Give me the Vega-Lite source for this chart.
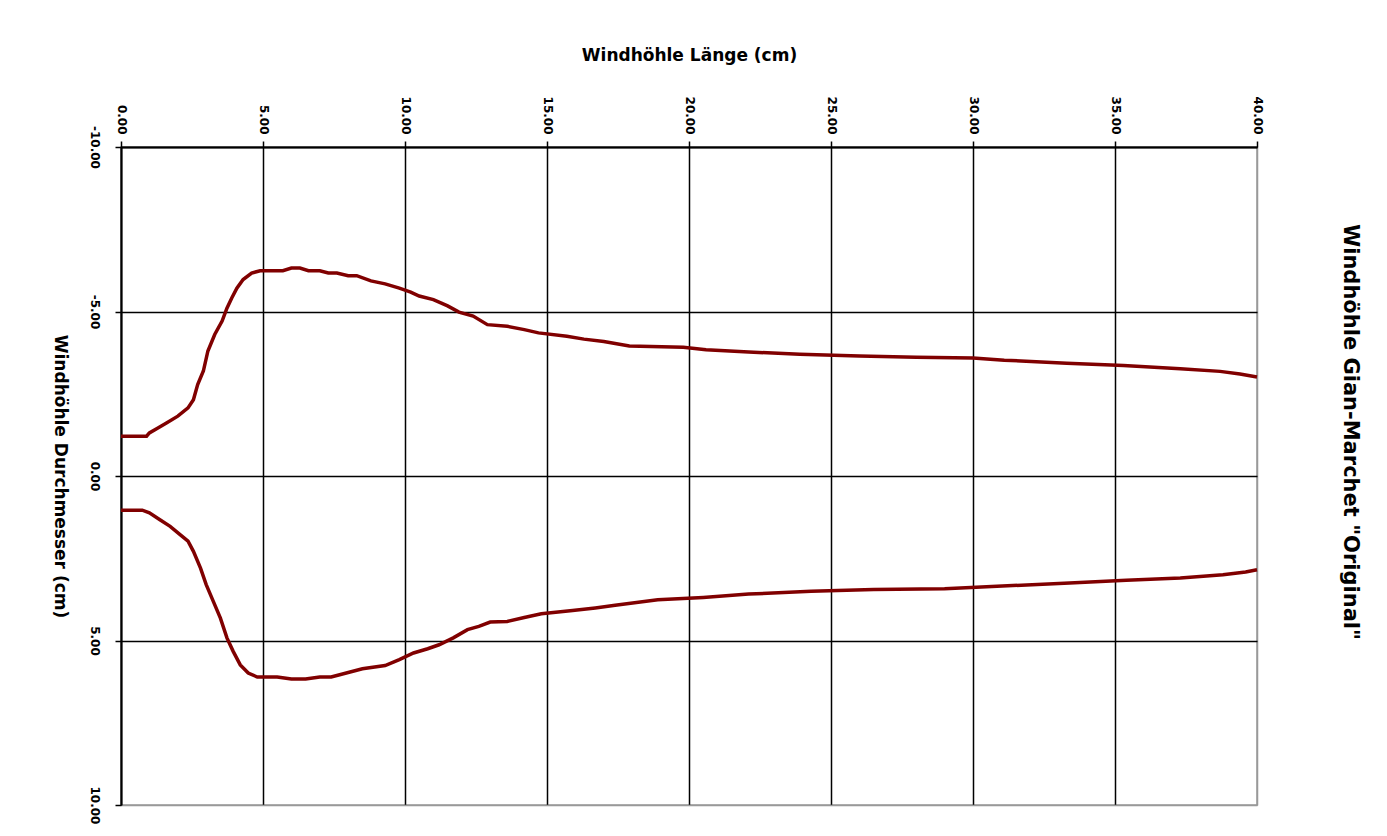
{
  "$schema": "https://vega.github.io/schema/vega-lite/v6.json",
  "autosize": "none",
  "width": 1136,
  "height": 658,
  "padding": {"left": 121, "top": 147, "right": 130, "bottom": 31},
  "background": "white",
  "title": {
    "text": "Windhöhle Gian-Marchet \"Original\"",
    "orient": "right",
    "angle": 90,
    "anchor": "middle",
    "offset": 76,
    "dx": -44,
    "font": "DejaVu Sans",
    "fontSize": 21,
    "fontWeight": "bold",
    "color": "black"
  },
  "config": {
    "view": {"stroke": "#999999", "strokeWidth": 1.5},
    "axis": {
      "labelFont": "DejaVu Sans",
      "labelFontSize": 12,
      "labelFontWeight": "bold",
      "labelColor": "black",
      "titleFont": "DejaVu Sans",
      "titleFontSize": 17,
      "titleFontWeight": "bold",
      "titleColor": "black",
      "domainColor": "black",
      "domainWidth": 2,
      "tickColor": "black",
      "tickWidth": 1.5,
      "tickSize": 6,
      "gridWidth": 1.5
    }
  },
  "data": {
    "values": [
      {"s": "oben", "x": 0, "y": -1.21},
      {"s": "oben", "x": 0.9, "y": -1.21},
      {"s": "oben", "x": 1.0, "y": -1.31},
      {"s": "oben", "x": 1.3, "y": -1.46},
      {"s": "oben", "x": 1.6, "y": -1.61},
      {"s": "oben", "x": 2.0, "y": -1.82},
      {"s": "oben", "x": 2.36, "y": -2.07},
      {"s": "oben", "x": 2.55, "y": -2.32},
      {"s": "oben", "x": 2.7, "y": -2.78},
      {"s": "oben", "x": 2.9, "y": -3.19},
      {"s": "oben", "x": 3.06, "y": -3.8},
      {"s": "oben", "x": 3.3, "y": -4.3},
      {"s": "oben", "x": 3.56, "y": -4.71},
      {"s": "oben", "x": 3.73, "y": -5.1},
      {"s": "oben", "x": 3.9, "y": -5.41},
      {"s": "oben", "x": 4.08, "y": -5.71},
      {"s": "oben", "x": 4.3, "y": -5.97},
      {"s": "oben", "x": 4.6, "y": -6.17},
      {"s": "oben", "x": 4.9, "y": -6.24},
      {"s": "oben", "x": 5.7, "y": -6.24},
      {"s": "oben", "x": 6.0, "y": -6.32},
      {"s": "oben", "x": 6.3, "y": -6.32},
      {"s": "oben", "x": 6.6, "y": -6.24},
      {"s": "oben", "x": 7.0, "y": -6.24},
      {"s": "oben", "x": 7.3, "y": -6.17},
      {"s": "oben", "x": 7.6, "y": -6.17},
      {"s": "oben", "x": 8.0, "y": -6.09},
      {"s": "oben", "x": 8.3, "y": -6.09},
      {"s": "oben", "x": 8.8, "y": -5.93},
      {"s": "oben", "x": 9.3, "y": -5.84},
      {"s": "oben", "x": 9.8, "y": -5.71},
      {"s": "oben", "x": 10.2, "y": -5.59},
      {"s": "oben", "x": 10.5, "y": -5.47},
      {"s": "oben", "x": 11.0, "y": -5.36},
      {"s": "oben", "x": 11.5, "y": -5.17},
      {"s": "oben", "x": 11.9, "y": -4.98},
      {"s": "oben", "x": 12.4, "y": -4.86},
      {"s": "oben", "x": 12.9, "y": -4.6},
      {"s": "oben", "x": 13.6, "y": -4.55},
      {"s": "oben", "x": 14.2, "y": -4.45},
      {"s": "oben", "x": 14.7, "y": -4.35},
      {"s": "oben", "x": 15.7, "y": -4.25},
      {"s": "oben", "x": 16.3, "y": -4.16},
      {"s": "oben", "x": 17.0, "y": -4.09},
      {"s": "oben", "x": 17.9, "y": -3.95},
      {"s": "oben", "x": 19.8, "y": -3.91},
      {"s": "oben", "x": 20.6, "y": -3.84},
      {"s": "oben", "x": 22.1, "y": -3.77},
      {"s": "oben", "x": 23.9, "y": -3.7},
      {"s": "oben", "x": 26.0, "y": -3.65},
      {"s": "oben", "x": 28.0, "y": -3.61},
      {"s": "oben", "x": 30.0, "y": -3.59},
      {"s": "oben", "x": 31.1, "y": -3.52},
      {"s": "oben", "x": 33.3, "y": -3.43},
      {"s": "oben", "x": 35.3, "y": -3.36},
      {"s": "oben", "x": 37.3, "y": -3.26},
      {"s": "oben", "x": 38.7, "y": -3.18},
      {"s": "oben", "x": 39.4, "y": -3.1},
      {"s": "oben", "x": 40, "y": -3.01},
      {"s": "unten", "x": 0, "y": 1.04},
      {"s": "unten", "x": 0.75, "y": 1.04},
      {"s": "unten", "x": 1.0, "y": 1.12},
      {"s": "unten", "x": 1.37, "y": 1.33},
      {"s": "unten", "x": 1.73, "y": 1.53},
      {"s": "unten", "x": 2.08, "y": 1.78},
      {"s": "unten", "x": 2.36, "y": 1.98},
      {"s": "unten", "x": 2.55, "y": 2.29},
      {"s": "unten", "x": 2.8, "y": 2.8},
      {"s": "unten", "x": 3.0, "y": 3.3},
      {"s": "unten", "x": 3.25, "y": 3.81},
      {"s": "unten", "x": 3.5, "y": 4.32},
      {"s": "unten", "x": 3.73, "y": 4.92},
      {"s": "unten", "x": 3.95, "y": 5.33},
      {"s": "unten", "x": 4.2, "y": 5.74},
      {"s": "unten", "x": 4.48, "y": 5.99},
      {"s": "unten", "x": 4.8, "y": 6.11},
      {"s": "unten", "x": 5.5, "y": 6.11},
      {"s": "unten", "x": 6.0, "y": 6.17},
      {"s": "unten", "x": 6.5, "y": 6.17},
      {"s": "unten", "x": 7.0, "y": 6.11},
      {"s": "unten", "x": 7.4, "y": 6.11},
      {"s": "unten", "x": 7.8, "y": 6.02},
      {"s": "unten", "x": 8.5, "y": 5.86},
      {"s": "unten", "x": 9.3, "y": 5.76},
      {"s": "unten", "x": 9.8, "y": 5.58},
      {"s": "unten", "x": 10.3, "y": 5.38},
      {"s": "unten", "x": 10.8, "y": 5.25},
      {"s": "unten", "x": 11.2, "y": 5.13},
      {"s": "unten", "x": 11.7, "y": 4.92},
      {"s": "unten", "x": 12.2, "y": 4.67},
      {"s": "unten", "x": 12.6, "y": 4.57},
      {"s": "unten", "x": 13.0, "y": 4.44},
      {"s": "unten", "x": 13.6, "y": 4.42},
      {"s": "unten", "x": 14.2, "y": 4.3},
      {"s": "unten", "x": 14.8, "y": 4.19},
      {"s": "unten", "x": 15.9, "y": 4.09},
      {"s": "unten", "x": 16.7, "y": 4.01},
      {"s": "unten", "x": 17.4, "y": 3.93},
      {"s": "unten", "x": 18.9, "y": 3.76},
      {"s": "unten", "x": 20.5, "y": 3.69},
      {"s": "unten", "x": 22.1, "y": 3.59},
      {"s": "unten", "x": 24.3, "y": 3.5},
      {"s": "unten", "x": 26.5, "y": 3.45},
      {"s": "unten", "x": 29.0, "y": 3.43},
      {"s": "unten", "x": 31.4, "y": 3.33},
      {"s": "unten", "x": 33.4, "y": 3.25},
      {"s": "unten", "x": 35.4, "y": 3.17},
      {"s": "unten", "x": 37.3, "y": 3.1},
      {"s": "unten", "x": 38.8, "y": 3.0},
      {"s": "unten", "x": 39.6, "y": 2.92},
      {"s": "unten", "x": 40, "y": 2.85}
    ]
  },
  "mark": {"type": "line", "color": "#800000", "strokeWidth": 3.5, "interpolate": "linear"},
  "encoding": {
    "detail": {"field": "s", "type": "nominal"},
    "x": {
      "field": "x",
      "type": "quantitative",
      "scale": {"domain": [0, 40], "nice": false, "zero": false},
      "axis": {
        "orient": "top",
        "title": "Windhöhle Länge (cm)",
        "values": [0, 5, 10, 15, 20, 25, 30, 35, 40],
        "format": ".2f",
        "labelAngle": 90,
        "labelAlign": "right",
        "labelBaseline": "middle",
        "labelPadding": 7,
        "titlePadding": 32,
        "grid": true,
        "gridColor": {"condition": {"test": "datum.value == 40", "value": "#999999"}, "value": "black"}
      }
    },
    "y": {
      "field": "y",
      "type": "quantitative",
      "scale": {"domain": [-10, 10], "nice": false, "reverse": true},
      "axis": {
        "orient": "left",
        "title": "Windhöhle Durchmesser (cm)",
        "titleAngle": 90,
        "titlePadding": 38,
        "values": [-10, -5, 0, 5, 10],
        "format": ".2f",
        "labelExpr": "replace(datum.label, '−', '-')",
        "labelAngle": 90,
        "labelAlign": "center",
        "labelBaseline": "top",
        "labelPadding": 16,
        "grid": true,
        "gridColor": {"condition": {"test": "datum.value == 10", "value": "#999999"}, "value": "black"}
      }
    }
  }
}
